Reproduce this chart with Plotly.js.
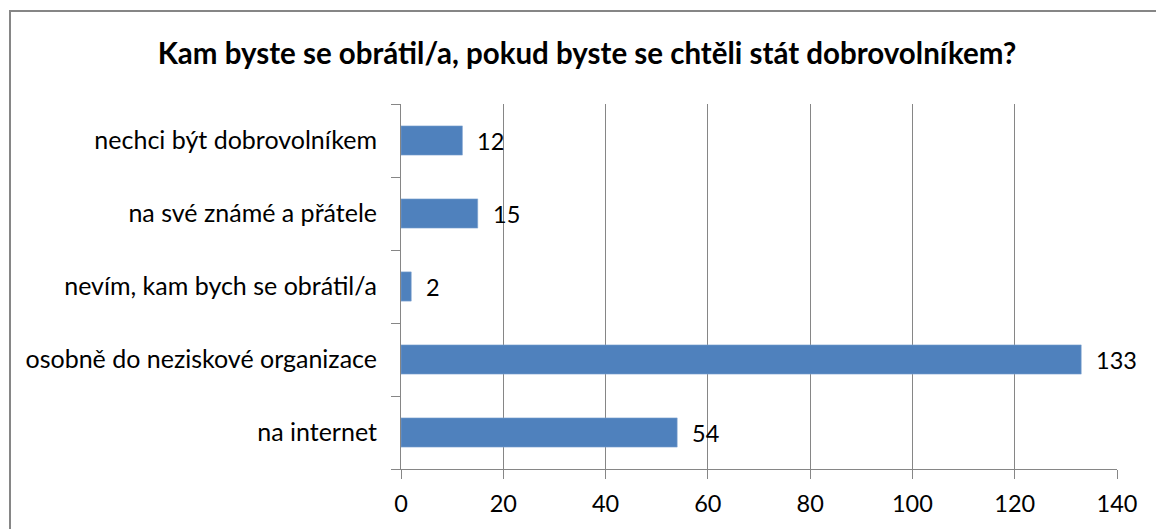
<!DOCTYPE html>
<html>
<head>
<meta charset="utf-8">
<script src="https://cdn.plot.ly/plotly-3.0.1.min.js"></script>
<style>
  html, body { margin: 0; padding: 0; background: #fff; }
  #wrap { position: relative; width: 1156px; height: 529px; overflow: hidden; }
  #chart { position: absolute; left: 0; top: 0; width: 1156px; height: 529px; }
  #frame { position: absolute; left: 9px; top: 10px; width: 1200px; height: 600px;
           border-left: 2px solid #868686; border-top: 2px solid #868686; pointer-events: none; }
</style>
</head>
<body>
<div id="wrap">
  <div id="chart"></div>
  <div id="frame"></div>
</div>
<script>
const chartTitle = "Kam byste se obrátil/a, pokud byste se chtěli stát dobrovolníkem?";
const categories = ["na internet", "osobně do neziskové organizace", "nevím, kam bych se obrátil/a", "na své známé a přátele", "nechci být dobrovolníkem"];
const counts = [54, 133, 2, 15, 12];
const xTicks = [0, 20, 40, 60, 80, 100, 120, 140];

const FONT = "Lato, Carlito, Calibri, sans-serif";

const trace = {
  type: "bar",
  orientation: "h",
  y: categories,
  x: counts,
  width: 0.4,
  marker: { color: "#4F81BD", line: { color: "#7FA3D0", width: 0.6 } },
  hoverinfo: "none"
};

const annotations = categories.map((c, i) => ({
  x: counts[i], y: c, xref: "x", yref: "y",
  text: String(counts[i]), showarrow: false,
  xanchor: "left", yanchor: "middle", xshift: 13, yshift: 0,
  font: { family: FONT, size: 23.5, color: "#000" }
}));

const layout = {
  width: 1156, height: 529,
  paper_bgcolor: "rgba(0,0,0,0)", plot_bgcolor: "rgba(0,0,0,0)",
  margin: { l: 400.5, r: 38.5, t: 104, b: 60, pad: 0 },
  showlegend: false,
  title: {
    text: "<b>" + chartTitle + "</b>",
    font: { family: FONT, size: 29.5, color: "#000" },
    x: 587 / 1156, xanchor: "center", xref: "container", y: 1 - 54 / 529, yanchor: "middle", yref: "container"
  },
  xaxis: {
    range: [0, 140], tickvals: xTicks, ticktext: xTicks.map(String),
    showgrid: true, gridcolor: "#868686", gridwidth: 1,
    showline: true, linecolor: "#868686", linewidth: 1,
    ticks: "outside", ticklen: 9, tickcolor: "#868686",
    zeroline: false, fixedrange: true, ticklabelstandoff: 5,
    tickfont: { family: FONT, size: 23.5, color: "#000" }
  },
  yaxis: {
    type: "category", categoryorder: "array", categoryarray: categories,
    range: [-0.5, 4.5],
    showline: true, linecolor: "#868686", linewidth: 1,
    ticks: "outside", ticklen: 9, tickcolor: "#868686", tickson: "boundaries",
    showgrid: false, zeroline: false, fixedrange: true, ticklabelstandoff: 18,
    tickfont: { family: FONT, size: 25, color: "#000" }
  },
  annotations: annotations
};

Plotly.newPlot("chart", [trace], layout, { staticPlot: true, displayModeBar: false });
</script>
</body>
</html>
